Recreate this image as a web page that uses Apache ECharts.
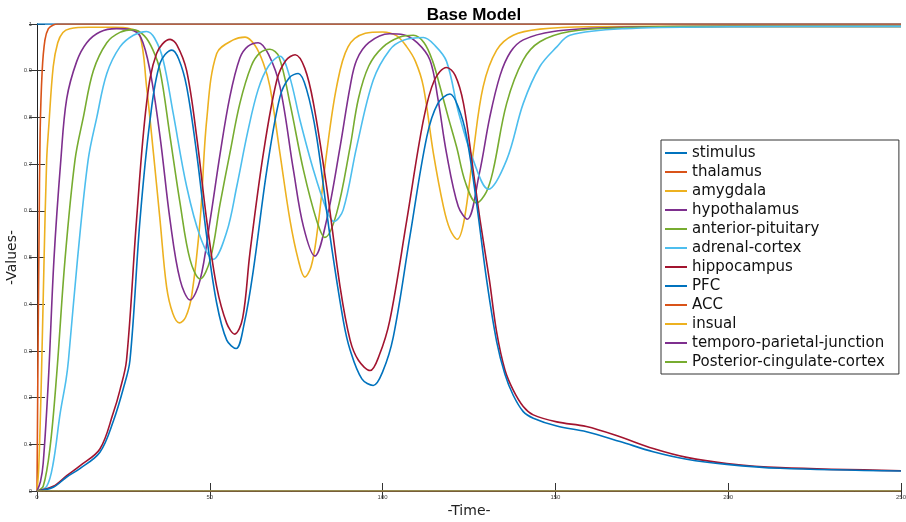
<!DOCTYPE html>
<html>
<head>
<meta charset="utf-8">
<script src="https://cdn.jsdelivr.net/npm/echarts@6/dist/echarts.min.js"></script>
<style>
  html, body { margin: 0; padding: 0; background: #fff; }
  #main { width: 906px; height: 522px; }
</style>
</head>
<body>
<div id="main"></div>
<script>
// values, [time, value]
var seriesNames = ['stimulus', 'thalamus', 'amygdala', 'hypothalamus', 'anterior-pituitary',
  'adrenal-cortex', 'hippocampus', 'PFC', 'ACC', 'insual', 'temporo-parietal-junction',
  'Posterior-cingulate-cortex'];
var seriesColors = ['#0072BD', '#D95319', '#EDB120', '#7E2F8E', '#77AC30', '#4DBEEE', '#A2142F',
  '#0072BD', '#D95319', '#EDB120', '#7E2F8E', '#77AC30'];

var stimulus = [[0, 1], [250, 1]];
var thalamus = [[0, 0], [0.3, 0.3], [0.6, 0.55], [0.9, 0.766], [1.5, 0.9], [2.3, 0.966], [3.3, 0.99], [4.7, 0.998], [6, 1], [250, 1]];
var amygdala = [[0, 0], [0.5, 0.05], [1.2, 0.22], [2, 0.48], [2.8, 0.709], [3.4, 0.78], [4.7, 0.909], [6, 0.96], [7.5, 0.982], [9.5, 0.99], [15, 0.993], [22, 0.993], [27, 0.99], [29.8, 0.975],
  [31.7, 0.866], [33.7, 0.723], [35.6, 0.58], [37.5, 0.437], [39.3, 0.38], [41.2, 0.36], [43, 0.372], [44.8, 0.42], [47.2, 0.58], [49.1, 0.794], [52, 0.937], [56.8, 0.966], [60.2, 0.972],
  [63, 0.955], [65.5, 0.916], [67.4, 0.866], [70.3, 0.723], [73.2, 0.58], [75.6, 0.495], [77.5, 0.458], [79.3, 0.48], [80.9, 0.545], [83.8, 0.723], [86.7, 0.866], [90, 0.951], [95, 0.98],
  [100, 0.983], [104, 0.975], [107, 0.951], [109.5, 0.92], [111.8, 0.866], [114.7, 0.723], [117.6, 0.609], [119.5, 0.56], [121.6, 0.539], [123.6, 0.58], [126.2, 0.723], [129.1, 0.866],
  [133, 0.944], [137.8, 0.976], [145.5, 0.989], [160, 0.994], [200, 0.995], [250, 0.995]];
var hypothalamus = [[0, 0], [1, 0.02], [1.8, 0.06], [3.3, 0.238], [4.9, 0.495], [6.9, 0.709], [8.6, 0.84], [11.5, 0.92], [14.4, 0.96], [18.2, 0.983], [23, 0.99], [27, 0.988], [30, 0.972],
  [32.7, 0.9], [35.6, 0.759], [38.5, 0.58], [41.4, 0.452], [44.3, 0.409], [47.2, 0.452], [50.1, 0.58], [53, 0.723], [55.8, 0.844], [58.7, 0.927], [61, 0.952], [64, 0.96], [67, 0.935],
  [70.3, 0.866], [74.2, 0.687], [77.1, 0.566], [80.4, 0.503], [83.8, 0.58], [87.7, 0.737], [90.6, 0.866], [92.5, 0.923], [96, 0.96], [102, 0.979], [106, 0.977], [110, 0.96],
  [113.7, 0.923], [116, 0.84], [118.5, 0.723], [121.9, 0.609], [124.5, 0.582], [128, 0.68], [131, 0.8], [134, 0.89], [137, 0.94], [140.7, 0.966], [149.4, 0.984], [165, 0.992],
  [200, 0.995], [250, 0.995]];
var anteriorPituitary = [[0, 0], [1.8, 0.01], [3.8, 0.095], [5.7, 0.25], [8.1, 0.495], [11, 0.709], [13.4, 0.8], [16.3, 0.9], [20.2, 0.96], [24, 0.982], [27.8, 0.988], [31, 0.975],
  [33.5, 0.945], [35.6, 0.9], [38.5, 0.759], [41.4, 0.616], [44.3, 0.495], [47.2, 0.454], [50.1, 0.495], [53, 0.616], [55.8, 0.723], [58.7, 0.83], [62, 0.91], [64.5, 0.938], [67.4, 0.946],
  [70, 0.93], [73.2, 0.83], [77.1, 0.687], [80.9, 0.58], [83.3, 0.543], [86.7, 0.595], [90.6, 0.737], [93, 0.84], [96, 0.91], [100, 0.95], [105, 0.972], [108.9, 0.976], [112, 0.96],
  [114.5, 0.92], [116.6, 0.866], [119, 0.8], [121.4, 0.737], [124, 0.66], [127.2, 0.617], [130, 0.64], [132, 0.687], [135.9, 0.83], [140.7, 0.923], [145.5, 0.962], [154.2, 0.984],
  [170, 0.992], [200, 0.995], [250, 0.995]];
var adrenalCortex = [[0, 0], [2.8, 0.01], [4.7, 0.06], [6.7, 0.166], [8.4, 0.238], [9.1, 0.28], [11.7, 0.495], [14.8, 0.709], [17.3, 0.8], [20.2, 0.894], [24, 0.951], [27.9, 0.976],
  [31.7, 0.984], [34, 0.97], [36.5, 0.923], [39.4, 0.809], [43.3, 0.652], [47.2, 0.545], [51, 0.496], [54.9, 0.555], [57.8, 0.652], [61, 0.77], [64, 0.86], [67, 0.91], [70.3, 0.931],
  [73, 0.89], [76.1, 0.794], [80, 0.687], [83.8, 0.602], [85.9, 0.577], [88.6, 0.602], [92.5, 0.737], [97.3, 0.88], [102, 0.944], [106, 0.965], [111.8, 0.971], [115, 0.955],
  [118.5, 0.92], [122, 0.81], [126.2, 0.709], [130.6, 0.646], [135.9, 0.709], [140.7, 0.83], [145.5, 0.909], [150.4, 0.951], [154.2, 0.976], [170, 0.99], [200, 0.994], [250, 0.995]];
var hippocampus = [[0, 0], [4.7, 0.01], [8.6, 0.033], [12.4, 0.054], [18.2, 0.09], [22.1, 0.168], [24, 0.216], [25.9, 0.28], [28.8, 0.58], [31.7, 0.83], [34.6, 0.937], [38.5, 0.967],
  [40.5, 0.955], [43.3, 0.9], [46.2, 0.759], [49.1, 0.58], [52, 0.437], [54.9, 0.359], [57.2, 0.336], [59.5, 0.37], [61.6, 0.509], [65.5, 0.723], [69.4, 0.88], [72, 0.922],
  [74.7, 0.934], [77.5, 0.905], [80, 0.83], [83.8, 0.652], [87.7, 0.437], [90.6, 0.323], [93, 0.28], [96.4, 0.258], [99, 0.29], [102.1, 0.366], [107, 0.58], [111.8, 0.794],
  [115, 0.88], [118.5, 0.907], [121, 0.89], [123.4, 0.83], [126.2, 0.687], [128.2, 0.58], [130.9, 0.452], [133, 0.34], [135.4, 0.259], [137.8, 0.216], [140.7, 0.181], [143.6, 0.163],
  [150.4, 0.148], [159, 0.138], [168.7, 0.116], [178.3, 0.091], [188, 0.072], [199.6, 0.059], [215, 0.05], [250, 0.0435]];
var pfc = [[0, 0], [4.7, 0.008], [8.6, 0.03], [12.4, 0.048], [18.2, 0.083], [22.1, 0.15], [25, 0.22], [26.9, 0.28], [29.8, 0.58], [32.7, 0.794], [35.6, 0.916], [39, 0.944],
  [41, 0.925], [43.3, 0.866], [46.2, 0.723], [49.1, 0.545], [52, 0.402], [54.9, 0.323], [57.6, 0.305], [60, 0.36], [62.6, 0.473], [66.5, 0.687], [70.3, 0.844], [73, 0.885],
  [75.6, 0.894], [78, 0.86], [80.9, 0.759], [84.8, 0.545], [88.6, 0.366], [90.6, 0.302], [94, 0.24], [97.3, 0.226], [100, 0.255], [103.1, 0.33], [107.9, 0.545], [112.8, 0.759],
  [116, 0.83], [119.5, 0.85], [122, 0.82], [124.3, 0.759], [127.2, 0.616], [130.1, 0.452], [133, 0.32], [135.4, 0.25], [137.8, 0.205], [140.7, 0.17], [143.6, 0.156],
  [150.4, 0.139], [159, 0.127], [168.7, 0.106], [178.3, 0.084], [188, 0.068], [199.6, 0.057], [215, 0.0486], [250, 0.0428]];
var acc = [[0, 0], [250, 0]];
var insual = [[0, 0], [250, 0]];
var tpj = [[0, 0], [250, 0]];
var pcc = [[0, 0], [250, 0]];

var allData = [stimulus, thalamus, amygdala, hypothalamus, anteriorPituitary, adrenalCortex,
  hippocampus, pfc, acc, insual, tpj, pcc];

var mychart = echarts.init(document.getElementById('main'));

var series = [];
for (var i = 0; i < seriesNames.length; i++) {
    series.push({
        name: seriesNames[i],
        type: 'line',
        data: allData[i],
        showSymbol: false,
        symbol: 'none',
        smooth: 0.35,
        lineStyle: { color: seriesColors[i], width: i < 8 ? 1.6 : 1 },
        itemStyle: { color: seriesColors[i] },
        z: 2 + i
    });
}

var tickLabel = { fontSize: 6, color: '#444', fontFamily: 'Liberation Sans' };
var axisLine = { show: true, lineStyle: { color: '#222', width: 1 } };
var axisTick = { show: true, inside: true, length: 8, lineStyle: { color: '#333' } };

option = {
    animation: false,
    title: {
        text: 'Base Model',
        left: 469,
        textAlign: 'center',
        top: 2,
        textStyle: { fontSize: 17, fontWeight: 'bold', color: '#000', fontFamily: 'Liberation Sans' }
    },
    grid: { left: 37, right: 5, top: 24, bottom: 31, containLabel: false, outerBoundsMode: 'none' },
    legend: {
        orient: 'vertical',
        left: 661,
        top: 140,
        data: seriesNames,
        icon: 'rect',
        itemWidth: 22,
        itemHeight: 2,
        itemGap: 3,
        padding: [5, 14, 4, 4],
        backgroundColor: '#fff',
        borderColor: '#333',
        borderWidth: 1,
        borderRadius: 0,
        textStyle: { fontSize: 15, lineHeight: 16, color: '#111', fontFamily: 'DejaVu Sans' }
    },
    xAxis: [{
        type: 'value', min: 0, max: 250, interval: 50,
        name: '-Time-', nameLocation: 'middle', nameGap: 13, nameMoveOverlap: false,
        nameTextStyle: { fontSize: 14, color: '#222', fontFamily: 'DejaVu Sans' },
        axisLine: axisLine, axisTick: axisTick,
        axisLabel: Object.assign({ margin: 3 }, tickLabel),
        splitLine: { show: false }
    }, {
        type: 'value', min: 0, max: 250, interval: 50, position: 'top',
        axisLine: axisLine, axisTick: axisTick,
        axisLabel: { show: false }, splitLine: { show: false }
    }],
    yAxis: [{
        type: 'value', min: 0, max: 1, interval: 0.1,
        name: '-Values-', nameLocation: 'middle', nameGap: 18, nameMoveOverlap: false,
        nameTextStyle: { fontSize: 14, color: '#222', fontFamily: 'DejaVu Sans' },
        axisLine: axisLine, axisTick: axisTick,
        axisLabel: Object.assign({ margin: 5 }, tickLabel),
        splitLine: { show: false }
    }, {
        type: 'value', min: 0, max: 1, interval: 0.1, position: 'right',
        axisLine: axisLine, axisTick: axisTick,
        axisLabel: { show: false }, splitLine: { show: false }
    }],
    series: series
};
mychart.setOption(option);
</script>
</body>
</html>
